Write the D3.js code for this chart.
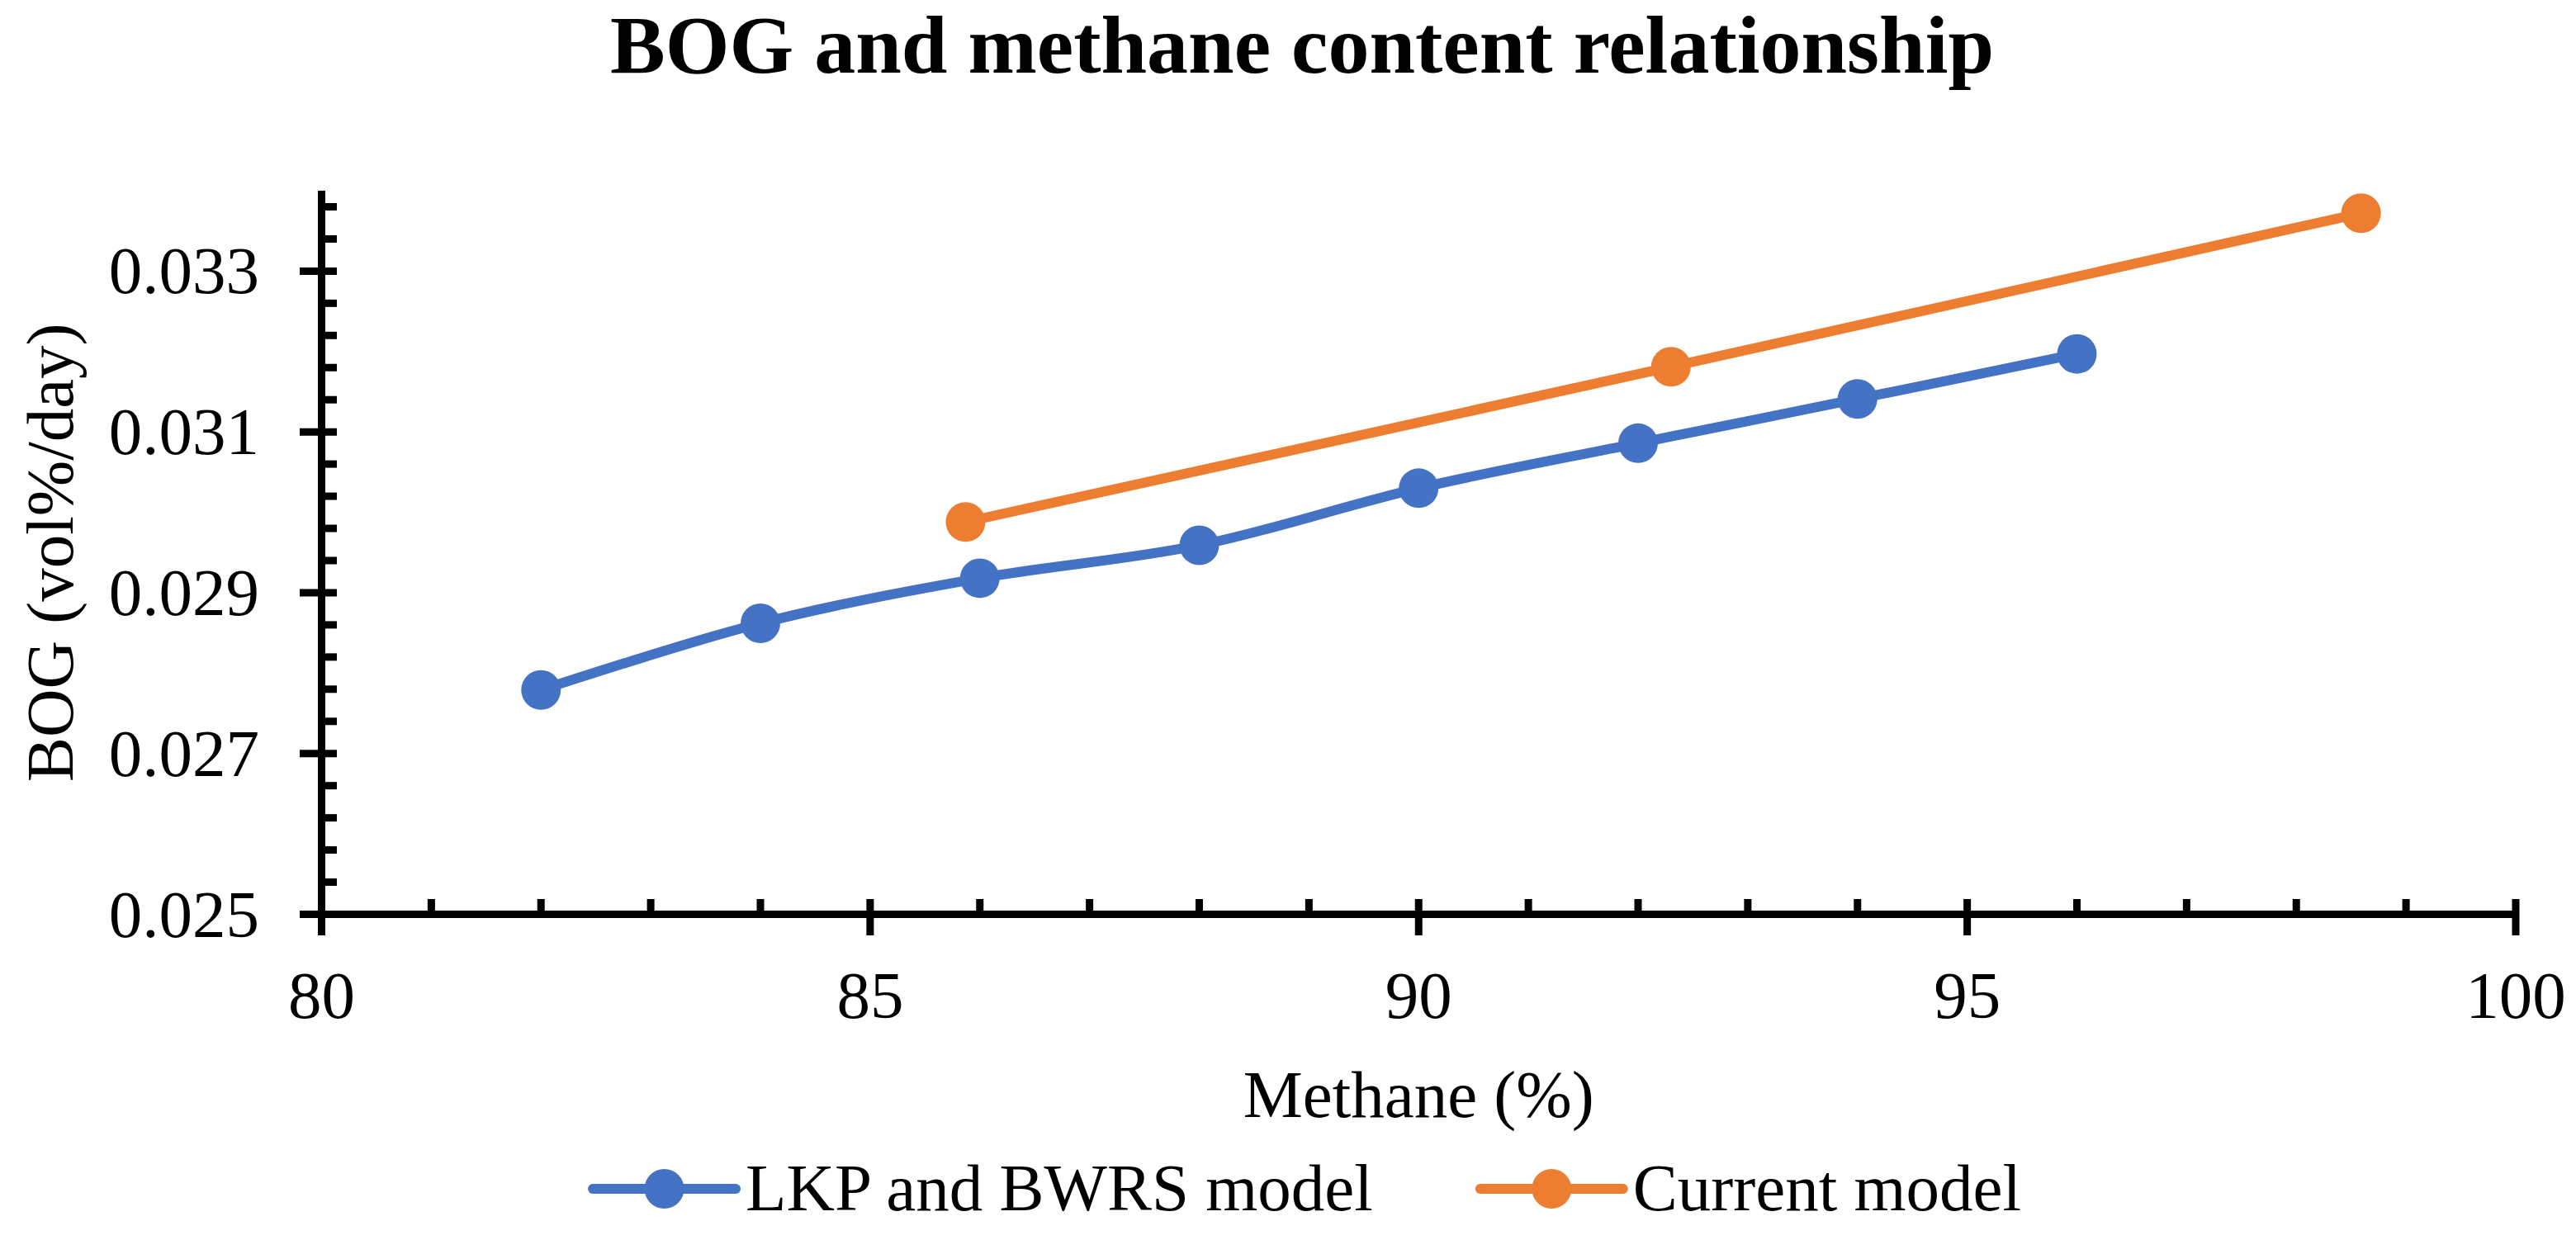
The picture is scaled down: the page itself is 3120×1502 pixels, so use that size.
<!DOCTYPE html>
<html>
<head>
<meta charset="utf-8">
<script src="https://cdn.jsdelivr.net/npm/d3@7"></script>
<style>
  html, body { margin: 0; padding: 0; background: #fff; }
  svg { display: block; }
  text { font-family: "Liberation Serif", "Times New Roman", serif; fill: #000; }
</style>
</head>
<body>
<svg id="chart" width="3120" height="1502"></svg>
<script>
// ---- data ----
const titleText = "BOG and methane content relationship";
const xTitle = "Methane (%)";
const yTitle = "BOG (vol%/day)";
const seriesNames = ["LKP and BWRS model", "Current model"];
const seriesColors = ["#4472C4", "#ED7D31"];

const lkpX = [82, 84, 86, 88, 90, 92, 94, 96];
const lkpY = [0.02779, 0.02862, 0.02918, 0.02959, 0.03030, 0.03086, 0.03141, 0.03197];

const curX = [85.87, 92.30, 98.59];
const curY = [0.02988, 0.03181, 0.03372];

const xTicks = [80, 85, 90, 95, 100];
const yTicks = [0.025, 0.027, 0.029, 0.031, 0.033];
const yTickLabels = ["0.025", "0.027", "0.029", "0.031", "0.033"];

// ---- layout ----
const svg = d3.select("#chart");
const L = 389.5, R = 3047, T = 231, B = 1107.5;

const x = d3.scaleLinear().domain([80, 100]).range([L, R]);
const y = d3.scaleLinear().domain([0.025, 0.034]).range([B, T]);

const axisW = 9;

// title
svg.append("text")
  .attr("x", 1577).attr("y", 88)
  .attr("text-anchor", "middle")
  .style("font-size", "100px").style("font-weight", "bold")
  .text(titleText);

// series lines
const series = [
  { name: seriesNames[0], color: seriesColors[0], pts: lkpX.map((v, i) => [v, lkpY[i]]) },
  { name: seriesNames[1], color: seriesColors[1], pts: curX.map((v, i) => [v, curY[i]]) }
];

const line = d3.line()
  .x(d => x(d[0])).y(d => y(d[1]))
  .curve(d3.curveCardinal.tension(0));

const g = svg.append("g");
series.forEach(s => {
  g.append("path")
    .attr("d", line(s.pts))
    .attr("fill", "none")
    .attr("stroke", s.color)
    .attr("stroke-width", 12)
    .attr("stroke-linejoin", "round");
  g.selectAll(null).data(s.pts).enter().append("circle")
    .attr("cx", d => x(d[0])).attr("cy", d => y(d[1]))
    .attr("r", 24).attr("fill", s.color);
});

// axes
const ax = svg.append("g");
const xMinor = d3.range(81, 100, 1).filter(v => v % 5 !== 0);
ax.selectAll(null).data(xMinor).enter().append("line")
  .attr("x1", d => x(d)).attr("x2", d => x(d))
  .attr("y1", B).attr("y2", B - 18.5)
  .attr("stroke", "#000").attr("stroke-width", axisW);
ax.selectAll(null).data(xTicks).enter().append("line")
  .attr("x1", d => x(d)).attr("x2", d => x(d))
  .attr("y1", B - 18.5).attr("y2", B + 25.5)
  .attr("stroke", "#000").attr("stroke-width", axisW);
const yMinor = d3.range(1, 23).map(i => 0.025 + i * 0.0004).filter(v => Math.abs(((v - 0.025) / 0.002) - Math.round((v - 0.025) / 0.002)) > 1e-6);
ax.selectAll(null).data(yMinor).enter().append("line")
  .attr("x1", L).attr("x2", L + 18.5)
  .attr("y1", d => y(d)).attr("y2", d => y(d))
  .attr("stroke", "#000").attr("stroke-width", axisW);
ax.selectAll(null).data(yTicks).enter().append("line")
  .attr("x1", L - 26.5).attr("x2", L + 18.5)
  .attr("y1", d => y(d)).attr("y2", d => y(d))
  .attr("stroke", "#000").attr("stroke-width", axisW);
ax.append("line").attr("x1", L).attr("x2", L).attr("y1", T).attr("y2", B)
  .attr("stroke", "#000").attr("stroke-width", axisW);
ax.append("line").attr("x1", L).attr("x2", R).attr("y1", B).attr("y2", B)
  .attr("stroke", "#000").attr("stroke-width", axisW);

// tick labels
ax.selectAll(null).data(xTicks).enter().append("text")
  .attr("x", d => x(d)).attr("y", 1233)
  .attr("text-anchor", "middle")
  .style("font-size", "81px")
  .text(d => d);
ax.selectAll(null).data(yTicks).enter().append("text")
  .attr("x", 314).attr("y", d => y(d) + 27)
  .attr("text-anchor", "end")
  .style("font-size", "81px")
  .text((d, i) => yTickLabels[i]);

// axis titles
svg.append("text")
  .attr("x", (L + R) / 2).attr("y", 1353)
  .attr("text-anchor", "middle")
  .style("font-size", "81px")
  .text(xTitle);
svg.append("text")
  .attr("transform", `translate(88,${(T + B) / 2}) rotate(-90)`)
  .attr("text-anchor", "middle")
  .style("font-size", "81px")
  .text(yTitle);

// legend
const leg = svg.append("g");
const swW = 173, txtGap = 12, itemGap = 130, legY = 1440, legBase = 1466;
const items = series.map(s => {
  const gi = leg.append("g");
  gi.append("line").attr("x1", 0).attr("x2", swW).attr("y1", legY).attr("y2", legY)
    .attr("stroke", s.color).attr("stroke-width", 12).attr("stroke-linecap", "round");
  gi.append("circle").attr("cx", swW / 2).attr("cy", legY).attr("r", 24).attr("fill", s.color);
  const t = gi.append("text").attr("x", swW + txtGap).attr("y", legBase)
    .style("font-size", "81px").text(s.name);
  return { gi, w: swW + txtGap + t.node().getComputedTextLength() };
});
const total = items[0].w + itemGap + items[1].w;
let cx = 1583 - total / 2;
items.forEach(it => { it.gi.attr("transform", `translate(${cx},0)`); cx += it.w + itemGap; });
</script>
</body>
</html>
